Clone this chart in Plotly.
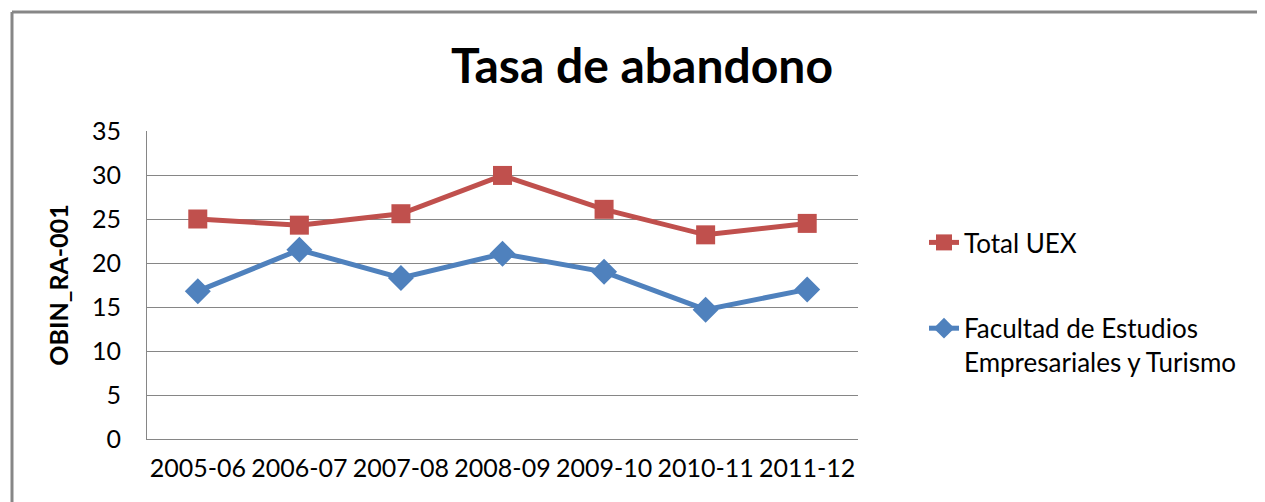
import plotly.graph_objects as go

categories = ["2005-06", "2006-07", "2007-08", "2008-09", "2009-10", "2010-11", "2011-12"]
total_uex = [25.0, 24.3, 25.6, 29.95, 26.1, 23.2, 24.5]
facultad = [16.8, 21.5, 18.3, 21.05, 19.0, 14.7, 17.0]
y_ticks = [0, 5, 10, 15, 20, 25, 30, 35]

FONT = "Lato"
OFF = 8  # page body margin
W, H = 1265 - OFF, 502 - OFF
L, R, T, B = 147 - OFF, 858 - OFF, 131 - OFF, 439 - OFF

fig = go.Figure()
fig.add_trace(go.Scatter(
    x=categories, y=total_uex, name="Total UEX", mode="lines+markers",
    legendgroup="a",
    line=dict(color="#C0504D", width=5),
    marker=dict(symbol="square", size=19, color="#C0504D"),
))
fig.add_trace(go.Scatter(
    x=categories, y=facultad, name="Facultad de Estudios<br>Empresariales y Turismo",
    mode="lines+markers", legendgroup="b",
    line=dict(color="#4F81BD", width=5),
    marker=dict(symbol="diamond", size=20, color="#4F81BD"),
))

def px_x(p):
    return (p - OFF - L) / (R - L)

def px_y(p):
    return (B - (p - OFF)) / (B - T)

border = "#878787"
fig.add_shape(type="line", xref="paper", yref="paper",
              x0=px_x(12), x1=px_x(12), y0=px_y(12), y1=px_y(520),
              line=dict(color=border, width=3))
fig.add_shape(type="line", xref="paper", yref="paper",
              x0=px_x(12), x1=px_x(1280), y0=px_y(12), y1=px_y(12),
              line=dict(color=border, width=3))

fig.update_layout(
    width=W, height=H,
    margin=dict(l=L, r=W - R, t=T, b=H - B, pad=0),
    paper_bgcolor="white", plot_bgcolor="white",
    font=dict(family=FONT, color="#000000", size=25),
    title=dict(text="<b>Tasa de abandono</b>", x=(642 - OFF) / W, xanchor="center",
               y=1 - (66 - OFF) / H, yanchor="middle",
               font=dict(family=FONT, size=48, color="#000000")),
    showlegend=True,
    legend=dict(x=px_x(924), xanchor="left", y=px_y(219), yanchor="top",
                font=dict(family=FONT, size=26, color="#000000"),
                traceorder="grouped", tracegroupgap=49, valign="top",
                bgcolor="rgba(0,0,0,0)", itemwidth=30),
)
fig.update_xaxes(
    type="category", categoryorder="array", categoryarray=categories,
    showgrid=False, showline=True, linecolor="#868686", linewidth=1,
    ticks="", tickfont=dict(family=FONT, size=25, color="#000000"),
    ticklabelstandoff=7, range=[-0.5, 6.5], zeroline=False,
)
fig.update_yaxes(
    range=[0, 35], tickvals=y_ticks, showgrid=True, gridcolor="#868686", gridwidth=1,
    showline=True, linecolor="#868686", linewidth=1, zeroline=False,
    ticks="", tickfont=dict(family=FONT, size=25, color="#000000"),
    ticklabelstandoff=20,
    title=dict(text="<b>OBIN_RA-001</b>", font=dict(family=FONT, size=25, color="#000000"),
               standoff=16),
)
fig.write_html("out.html")
